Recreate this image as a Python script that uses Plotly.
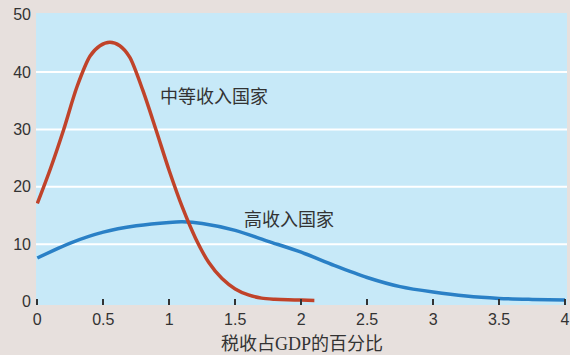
import plotly.graph_objects as go

# Tax revenue as share of GDP (x) vs. density (y) for two country groups
mid_x = [0, 0.1, 0.2, 0.3, 0.4, 0.475, 0.55, 0.625, 0.7, 0.8, 0.9, 1.0, 1.1,
         1.2, 1.3, 1.4, 1.5, 1.6, 1.7, 1.8, 1.9, 2.0, 2.1]
mid_y = [17.1, 23.2, 30.0, 37.4, 42.8, 44.6, 45.2, 44.6, 42.6, 36.8, 29.9,
         22.8, 16.4, 11.0, 6.8, 4.0, 2.2, 1.15, 0.6, 0.4, 0.3, 0.25, 0.2]

high_x = [0, 0.25, 0.5, 0.75, 1.0, 1.1, 1.25, 1.5, 1.75, 2.0, 2.25, 2.5, 2.75,
          3.0, 3.25, 3.5, 3.75, 4.0]
high_y = [7.6, 10.2, 12.1, 13.2, 13.8, 13.9, 13.6, 12.4, 10.5, 8.6, 6.3, 4.2,
          2.6, 1.65, 0.95, 0.55, 0.38, 0.28]

x_ticks = [0, 0.5, 1, 1.5, 2, 2.5, 3, 3.5, 4]
x_tick_text = ["0", "0.5", "1", "1.5", "2", "2.5", "3", "3.5", "4"]
y_ticks = [0, 10, 20, 30, 40, 50]
grid_y = [10, 20, 30, 40]

series_labels = ["中等收入国家", "高收入国家"]
label_pos = [(1.338, 35.6), (1.91, 14.2)]
x_title = "税收占GDP的百分比"

RED = "#c0432a"
BLUE = "#2a80c6"
TEXT = "#333333"
CJK = "Liberation Serif, Noto Sans CJK SC, sans-serif"

fig = go.Figure()
fig.add_trace(go.Scatter(x=high_x, y=high_y, mode="lines",
                         line=dict(color=BLUE, width=3.5, shape="spline",
                                   smoothing=0.8),
                         hoverinfo="skip"))
fig.add_trace(go.Scatter(x=mid_x, y=mid_y, mode="lines",
                         line=dict(color=RED, width=3.5, shape="spline",
                                   smoothing=0.8),
                         hoverinfo="skip"))

for gy in grid_y:
    fig.add_shape(type="line", xref="paper", yref="y", x0=0, x1=1, y0=gy, y1=gy,
                  line=dict(color="white", width=2), layer="below")

for text, (ax, ay) in zip(series_labels, label_pos):
    fig.add_annotation(x=ax, y=ay, text=text, showarrow=False,
                       font=dict(family=CJK, size=18, color=TEXT))

# x-axis title placed below the tick labels, near the bottom edge
fig.add_annotation(x=0.5, xref="paper", y=0, yref="paper", yanchor="middle",
                   yshift=-39, text=x_title, showarrow=False,
                   font=dict(family=CJK, size=18, color=TEXT))

fig.update_layout(
    width=570, height=355,
    margin=dict(l=36, r=0, t=13, b=50),
    paper_bgcolor="#e7e0dd",
    plot_bgcolor="#c7e9f8",
    showlegend=False,
    font=dict(family="Liberation Sans, Arial, sans-serif", size=16, color=TEXT),
    xaxis=dict(range=[-0.01, 4.015], tickvals=x_ticks, ticktext=x_tick_text,
               showgrid=False, zeroline=False, showline=False,
               ticks="inside", ticklen=6, tickwidth=1.5, tickcolor="#333333",
               ticklabelstandoff=3, ticklabeloverflow="allow"),
    yaxis=dict(range=[-0.6, 50.3], tickvals=y_ticks, showgrid=False,
               zeroline=False, showline=False, ticks="", ticklabelstandoff=4),
)

fig.write_html("out.html")
